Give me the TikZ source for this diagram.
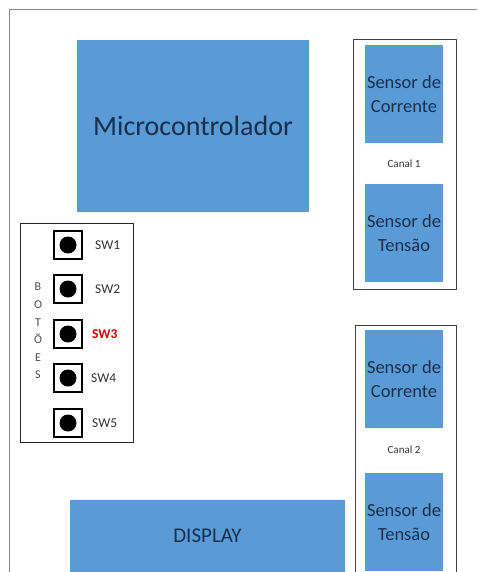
\documentclass[tikz,border=0pt]{standalone}
\usepackage{fontspec}
\setmainfont{Carlito}
\definecolor{blk}{HTML}{5B9BD5}
\definecolor{ink}{HTML}{17304F}
\definecolor{frm}{HTML}{8A8A8A}
\begin{document}
\begin{tikzpicture}[x=1pt,y=-1pt,
  block/.style={fill=blk, draw=none, text=ink, inner sep=0pt, align=center},
  chan/.style={draw=black!75, line width=0.8pt, fill=none, inner sep=0pt},
  chantxt/.style={font=\fontsize{11}{13}\selectfont, text=black!80},
  sens/.style={block, minimum width=78pt, minimum height=98pt, font=\fontsize{18.5}{24}\selectfont},
  btn/.style={draw=black, line width=1.1pt, minimum size=28pt, inner sep=0pt,
    path picture={
      \fill[black] (path picture bounding box.center) circle (8.5pt);
      \fill[black,shift={(path picture bounding box.north west)}] (0pt,0pt) rectangle (3.5pt,-3.5pt);
      \fill[black,shift={(path picture bounding box.north east)}] (0pt,0pt) rectangle (-3.5pt,-3.5pt);
      \fill[black,shift={(path picture bounding box.south west)}] (0pt,0pt) rectangle (3.5pt,3.5pt);
      \fill[black,shift={(path picture bounding box.south east)}] (0pt,0pt) rectangle (-3.5pt,3.5pt);
    }},
  swlab/.style={anchor=west, font=\fontsize{13.5}{15}\selectfont, text=black!80, inner sep=0pt}
]
\useasboundingbox (0,0) rectangle (477,572);
\fill[white] (0,0) rectangle (477,572);
% outer frame
\draw[frm, line width=0.9pt] (477,9) -- (9,9) -- (9,572);

% microcontroller
\node[block, minimum width=232pt, minimum height=172pt, font=\fontsize{28}{32}\selectfont] (mcu) at (193,126) {Microcontrolador};

% channel 1
\node[chan, minimum width=103pt, minimum height=250pt] (ch1) at (404.5,164) {};
\node[sens] (sc1) at (404,94) {Sensor de\\Corrente};
\node[chantxt] (c1) at (404,164) {Canal 1};
\node[sens] (st1) at (404,233) {Sensor de\\Tensão};

% channel 2 (open at the bottom edge)
\draw[black!75, line width=0.8pt] (355,572) |- (456,325) -- (456,572);
\node[sens] (sc2) at (404,379) {Sensor de\\Corrente};
\node[chantxt] (c2) at (404,450) {Canal 2};
\node[sens] (st2) at (404,522) {Sensor de\\Tensão};

% display
\node[block, minimum width=275pt, minimum height=72pt, font=\fontsize{21}{24}\selectfont] (disp) at (207.5,536) {DISPLAY};

% buttons
\node[draw=black!85, line width=0.9pt, minimum width=113pt, minimum height=219pt, inner sep=0pt] (bframe) at (76.5,332.5) {};
\node[font=\fontsize{12}{14}\selectfont, text=black!70, align=center, inner sep=0pt] (lbl) at (38,331) {B\\[3.6pt]O\\[3.6pt]T\\[3.6pt]Õ\\[3.6pt]E\\[3.6pt]S};
\node[btn] (b1) at (68,245) {};
\node[btn] (b2) at (68,289) {};
\node[btn] (b3) at (68,334) {};
\node[btn] (b4) at (68,378) {};
\node[btn] (b5) at (68,423) {};
\node[swlab] (s1) at (95,245) {SW1};
\node[swlab] (s2) at (95,289) {SW2};
\node[swlab, text=red!85!black, font=\fontsize{13.5}{15}\selectfont\bfseries] (s3) at (92,334) {SW3};
\node[swlab] (s4) at (91,378) {SW4};
\node[swlab] (s5) at (92,423) {SW5};
\end{tikzpicture}
\end{document}
